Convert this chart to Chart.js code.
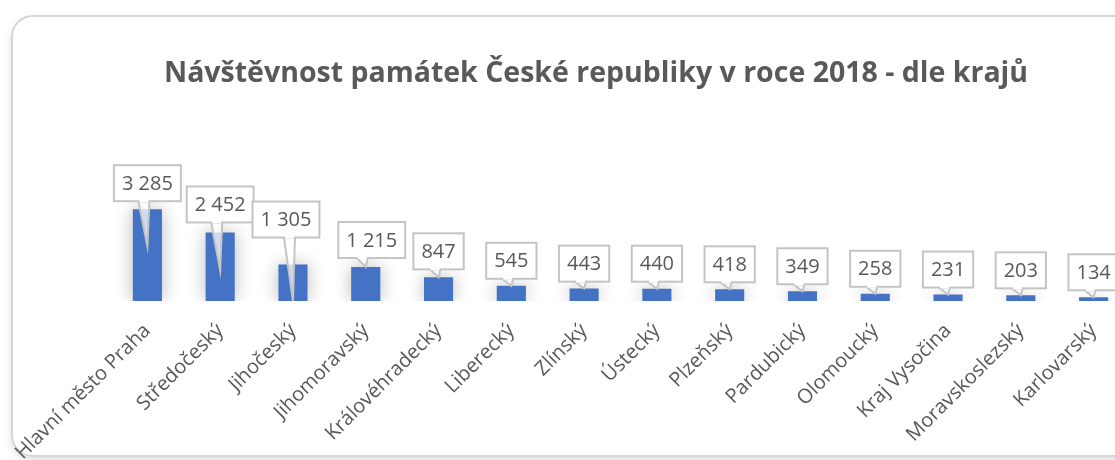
<!DOCTYPE html>
<html>
<head>
<meta charset="utf-8">
<script src="https://cdn.jsdelivr.net/npm/chart.js@4.4.0/dist/chart.umd.min.js"></script>
<style>
  html, body { margin: 0; padding: 0; width: 1115px; height: 460px; overflow: hidden; background: #fff; }
  #frame {
    position: absolute; left: 11px; top: 15px; width: 1200px; height: 438px;
    border: 2px solid #d6d6d6; border-radius: 22px;
    box-shadow: 0 4px 8px rgba(0,0,0,0.12);
  }
  #wrap { position: absolute; left: 11px; top: 15px; width: 1170px; height: 445px; }
</style>
</head>
<body>
<div id="frame"></div>
<div id="wrap"><canvas id="chart"></canvas></div>
<script>
const regions = [
  "Hlavní město Praha", "Středočeský", "Jihočeský", "Jihomoravský",
  "Královéhradecký", "Liberecký", "Zlínský", "Ústecký", "Plzeňský",
  "Pardubický", "Olomoucký", "Kraj Vysočina", "Moravskoslezský", "Karlovarský"
];
const visitors = [3285, 2452, 1305, 1215, 847, 545, 443, 440, 418, 349, 258, 231, 203, 134];

const textColor = "#595959";
const barColor = "#4472C4";

function fmt(v) {
  return String(v).replace(/\B(?=(\d{3})+(?!\d))/g, " ");
}

// soft glow behind the bars
const barGlow = {
  id: "barGlow",
  beforeDatasetsDraw(chart) {
    const ctx = chart.ctx;
    ctx.save();
    ctx.shadowColor = "rgba(0,0,0,0.28)";
    ctx.shadowBlur = 18;
  },
  afterDatasetsDraw(chart) {
    chart.ctx.restore();
  }
};

// callout style data labels
const callouts = {
  id: "callouts",
  afterDatasetsDraw(chart, args, opts) {
    const ctx = chart.ctx;
    const meta = chart.getDatasetMeta(0);
    const base = chart.scales.y.getPixelForValue(0);
    ctx.save();
    ctx.font = opts.font;
    meta.data.forEach((bar, i) => {
      const txt = fmt(visitors[i]);
      const w = ctx.measureText(txt).width + 16;
      const h = 36;
      const adj = opts.adjust[i] || {};
      const cx = bar.x + (adj.dx || 0);
      const bottom = bar.y - (adj.gap != null ? adj.gap : 7);
      const left = cx - w / 2;
      const top = bottom - h;
      const tipX = bar.x;
      const tipY = adj.tip != null ? Math.min(bar.y + adj.tip, base) : bar.y;

      // pointer
      const b0 = Math.max(left + 4, Math.min(tipX - 9, left + w - 16));
      ctx.beginPath();
      ctx.moveTo(b0, bottom);
      ctx.lineTo(tipX, tipY);
      ctx.lineTo(b0 + 11, bottom);
      ctx.closePath();
      ctx.fillStyle = "rgba(255,255,255,0.75)";
      ctx.fill();
      ctx.strokeStyle = "#c4c4c4";
      ctx.lineWidth = 2;
      ctx.stroke();

      // box
      ctx.fillStyle = "#ffffff";
      ctx.fillRect(left, top, w, h);
      ctx.strokeRect(left, top, w, h);
      // cover pointer join
      ctx.fillRect(b0 + 1, bottom - 2, 9, 3);

      ctx.fillStyle = textColor;
      ctx.textAlign = "center";
      ctx.textBaseline = "middle";
      ctx.fillText(txt, cx, top + h / 2 + 1);
    });
    ctx.restore();
  }
};

new Chart(document.getElementById("chart"), {
  type: "bar",
  data: {
    labels: regions,
    datasets: [{
      data: visitors,
      backgroundColor: barColor,
      barPercentage: 0.4,
      categoryPercentage: 1.0
    }]
  },
  plugins: [barGlow, callouts],
  options: {
    responsive: true,
    maintainAspectRatio: false,
    animation: false,
    layout: { padding: 0 },
    plugins: {
      legend: { display: false },
      tooltip: { enabled: false },
      title: {
        display: true,
        text: "Návštěvnost památek České republiky v roce 2018 - dle krajů",
        color: textColor,
        font: { family: "'Open Sans'", size: 28.5, weight: "bold", lineHeight: 1.2 },
        padding: { top: 42, bottom: 98 }
      },
      callouts: {
        font: "20px 'Open Sans'",
        adjust: [
          { gap: 8, tip: 37 },
          { gap: 10, tip: 38 },
          { gap: 27, tip: 40, dx: -7 },
          { gap: 9, dx: 6 },
          { gap: 8 }
        ]
      }
    },
    scales: {
      x: {
        grid: { display: false, drawTicks: false },
        border: { display: false },
        ticks: {
          autoSkip: false,
          maxRotation: 45,
          minRotation: 45,
          padding: 18,
          color: textColor,
          font: { family: "'Open Sans'", size: 20 }
        },
        afterFit(scale) {
          scale.height = 159;
          scale.paddingLeft = 100;
          scale.paddingRight = 51;
        }
      },
      y: {
        display: false,
        min: 0,
        max: 4000
      }
    }
  }
});
</script>
</body>
</html>
